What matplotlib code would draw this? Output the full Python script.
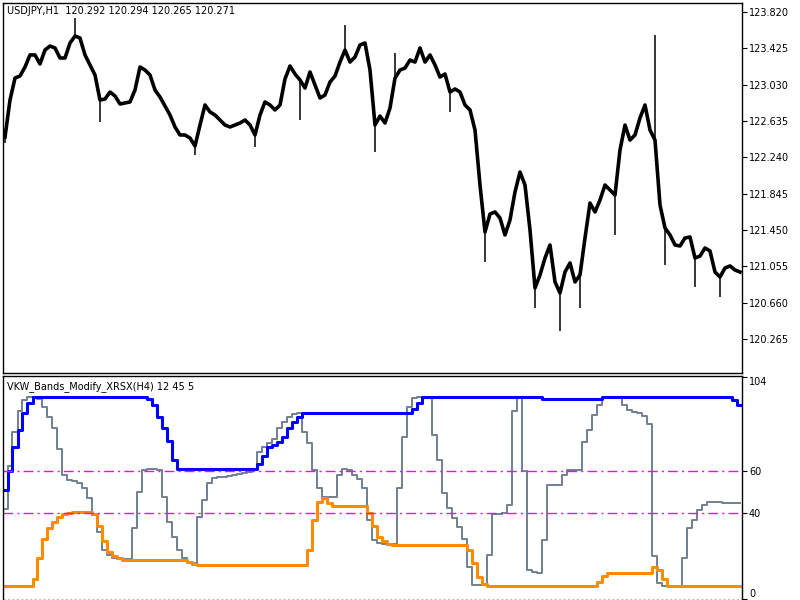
import matplotlib
matplotlib.use("Agg")
import matplotlib.pyplot as plt
import numpy as np

# USDJPY H1 price path, one sample every 5 bars
PRICE = [
    122.461, 122.863, 123.102, 123.124, 123.222, 123.353, 123.353, 123.255, 123.407, 123.450,
    123.429, 123.320, 123.320, 123.483, 123.559, 123.537, 123.353, 123.244, 123.135, 122.863,
    122.874, 122.950, 122.907, 122.820, 122.831, 122.842, 122.972, 123.222, 123.189, 123.135,
    122.972, 122.896, 122.798, 122.700, 122.570, 122.483, 122.483, 122.450, 122.363, 122.591,
    122.809, 122.733, 122.700, 122.646, 122.591, 122.570, 122.591, 122.613, 122.646, 122.591,
    122.483, 122.700, 122.842, 122.809, 122.755, 122.809, 123.092, 123.233, 123.146, 123.081,
    122.994, 123.168, 123.026, 122.885, 122.918, 123.059, 123.124, 123.276, 123.407, 123.276,
    123.331, 123.461, 123.483, 123.189, 122.591, 122.689, 122.613, 122.776, 123.102, 123.189,
    123.211, 123.298, 123.276, 123.429, 123.276, 123.353, 123.244, 123.113, 123.146, 122.950,
    122.983, 122.950, 122.809, 122.755, 122.537, 121.939, 121.428, 121.624, 121.646, 121.580,
    121.396, 121.559, 121.863, 122.080, 121.939, 121.450, 120.819, 120.961, 121.145, 121.287,
    120.885, 120.765, 120.993, 121.091, 120.885, 120.961, 121.363, 121.743, 121.646, 121.776,
    121.939, 121.885, 121.830, 122.320, 122.591, 122.428, 122.483, 122.668, 122.809, 122.537,
    122.428, 121.722, 121.472, 121.396, 121.287, 121.276, 121.363, 121.374, 121.145, 121.167,
    121.254, 121.222, 120.993, 120.939, 121.037, 121.059, 121.015, 120.993,
]
# long shadows (sample index, extreme price)
WICK_BAR = [0, 14, 19, 38, 50, 59, 68, 74, 78, 89, 96, 106, 111, 115, 122, 130, 132, 138, 143]
WICK_PRICE = [122.40, 123.755, 122.624, 122.265, 122.352, 122.646, 123.679, 122.298, 123.374,
              122.733, 121.102, 120.602, 120.352, 120.602, 121.396, 123.570, 121.069, 120.830,
              120.721]

PRICE_TICKS = [123.820, 123.425, 123.030, 122.635, 122.240, 121.845, 121.450, 121.055,
               120.660, 120.265]

# VKW_Bands_Modify_XRSX(H4)
UPPER = [
    51, 60, 71, 79, 87, 92, 94.7, 94.7, 94.7, 94.7, 94.7, 94.7, 94.7, 94.7, 94.7, 94.7,
    94.7, 94.7, 94.7, 94.7, 94.7, 94.7, 94.7, 94.7, 94.7, 94.7, 94.7, 94.7, 94.7, 93.5,
    91, 85, 80, 74, 65, 60.8, 60.8, 60.8, 60.8, 60.8, 60.8, 60.8, 60.8, 60.8, 60.8, 60.8,
    60.8, 60.8, 60.8, 60.8, 60.8, 63, 67, 71, 72, 73.5, 76, 80, 83, 85, 87, 87, 87, 87,
    87, 87, 87, 87, 87, 87, 87, 87, 87, 87, 87, 87, 87, 87, 87, 87, 87, 87, 89, 92,
    94.7, 94.7, 94.7, 94.7, 94.7, 94.7, 94.7, 94.7, 94.7, 94.7, 94.7, 94.7, 94.7, 94.7,
    94.7, 94.7, 94.7, 94.7, 94.7, 94.7, 94.7, 94.7, 94.7, 94.7, 93.6, 93.6, 93.6, 93.6,
    93.6, 93.6, 93.6, 93.6, 93.6, 93.6, 93.6, 93.6, 94.7, 94.7, 94.7, 94.7, 94.7, 94.7,
    94.7, 94.7, 94.7, 94.7, 94.7, 94.7, 94.7, 94.7, 94.7, 94.7, 94.7, 94.7, 94.7, 94.7,
    94.7, 94.7, 94.7, 94.7, 94.7, 94.7, 93, 91,
]
LOWER = [
    6, 6, 6, 6, 6, 6, 9, 19, 28, 33, 36, 38.3, 39.5, 40.3, 40.8, 40.8, 40.8, 40.8, 39.5,
    34, 27, 22, 20, 19, 18.3, 18.1, 18.1, 18.1, 18.1, 18.1, 18.1, 18.1, 18.1, 18.1, 18.1,
    18.1, 18.1, 17, 16.3, 15.7, 15.7, 15.7, 15.7, 15.7, 15.7, 15.7, 15.7, 15.7, 15.7, 15.7,
    15.7, 15.7, 15.7, 15.7, 15.7, 15.7, 15.7, 15.7, 15.7, 15.7, 15.7, 22.8, 37, 45.5, 47.2,
    45, 43.4, 43.4, 43.4, 43.4, 43.4, 43.4, 43.4, 40, 34, 29, 27, 25.5, 25.1, 25.1, 25.1,
    25.1, 25.1, 25.1, 25.1, 25.1, 25.1, 25.1, 25.1, 25.1, 25.1, 25.1, 25.1, 22.8, 16.5,
    10, 7, 6, 6, 6, 6, 6, 6, 6, 6, 6, 6, 6, 6, 6, 6, 6, 6, 6, 6, 6, 6, 6, 6, 7.8, 10.5,
    11.8, 11.8, 11.8, 11.8, 11.8, 11.8, 11.8, 11.8, 11.8, 15, 13.5, 9, 6, 6, 6, 6, 6, 6,
    6, 6, 6, 6, 6, 6, 6, 6, 6,
]
XRSX = [
    42, 62, 78, 88, 93, 94.5, 94.7, 93.5, 90, 85, 80, 70, 58, 55.6, 55, 54, 52, 47, 39, 31,
    23, 20.5, 19, 18.5, 18.5, 18.5, 33, 50, 60.3, 60.8, 60.8, 60.3, 47.7, 36, 29, 22.8, 19,
    17, 16.5, 38.3, 46.2, 54, 56.5, 57, 57.2, 57.5, 58, 58.5, 59, 59.5, 60.3, 68.8, 71, 73,
    75, 80, 83, 85, 86.5, 87, 78, 73, 60.3, 52, 47.7, 47.7, 47.7, 58, 60.8, 60.5, 58, 56,
    52, 37, 27.5, 26, 25.5, 25, 25.5, 52, 76, 90, 94, 94.7, 94.7, 94.7, 77, 65, 49.5, 42.5,
    37.8, 33.6, 28, 15, 6.3, 6.3, 6.3, 20.4, 39.7, 39.7, 40, 44, 88, 94, 60, 13.4, 12.5, 12,
    27.5, 53.3, 53.3, 53.3, 58, 60.3, 60.3, 60.3, 73.5, 79, 86, 91, 94, 94.7, 94.7, 94.7,
    91, 88.5, 87.6, 87, 85.5, 82, 20, 7.3, 6, 6, 6, 6, 19, 33, 37, 41.5, 44, 45.3, 45.3,
    45.3, 45, 44.8, 44.8, 44.8,
]
LEVELS = [60, 40]
IND_TICKS = [104, 60, 40, 0]

x = np.arange(len(PRICE))
FONT = dict(family="DejaVu Sans", fontsize=7)

fig = plt.figure(figsize=(8, 6), dpi=100)
fig.patch.set_facecolor("white")
ax1 = fig.add_axes([3 / 800, 227 / 600, 739 / 800, 370 / 600])
ax2 = fig.add_axes([3 / 800, 0.0, 739 / 800, 224.5 / 600])

# price panel
ax1.plot(x, PRICE, color="black", lw=2.6, solid_joinstyle="round")
ax1.vlines(WICK_BAR, [PRICE[b] for b in WICK_BAR], WICK_PRICE, color="black", lw=1.1)
ax1.set_xlim(-0.4, 147.4)
ax1.set_ylim(119.895, 123.918)
ax1.text(0.006, 0.978, "USDJPY,H1  120.292 120.294 120.265 120.271",
         transform=ax1.transAxes, va="center", ha="left", **FONT)

# indicator panel
ax2.plot(x, XRSX, color="#708090", lw=1.4, drawstyle="steps-mid")
ax2.plot(x, UPPER, color="#0000ff", lw=2.2, drawstyle="steps-mid")
ax2.plot(x, LOWER, color="#ff8c00", lw=2.2, drawstyle="steps-mid")
for lv in LEVELS:
    ax2.axhline(lv, color="#ff00ff", lw=1.0, ls=(0, (7, 3, 1.5, 3)))
ax2.axhline(0, color="#c0c0c0", lw=0.8, ls=(0, (2, 2)))
ax2.set_xlim(-0.4, 147.4)
ax2.set_ylim(-0.7, 104.7)
ax2.text(0.006, 0.95, "VKW_Bands_Modify_XRSX(H4) 12 45 5",
         transform=ax2.transAxes, va="center", ha="left", **FONT)

for ax in (ax1, ax2):
    ax.set_xticks([])
    ax.yaxis.tick_right()
    ax.tick_params(axis="y", direction="out", length=3.5, width=0.8, pad=1.5,
                   labelsize=7, colors="black")
    for s in ax.spines.values():
        s.set_color("black")
        s.set_linewidth(1.0)
ax2.spines["bottom"].set_visible(False)

ax1.set_yticks(PRICE_TICKS)
ax1.set_yticklabels([f"{t:.3f}" for t in PRICE_TICKS])
ax2.set_yticks(IND_TICKS)
labels = ax2.set_yticklabels([str(t) for t in IND_TICKS])
labels[0].set_va("top")
labels[-1].set_va("bottom")

fig.savefig("out.png", dpi=100, facecolor="white")
